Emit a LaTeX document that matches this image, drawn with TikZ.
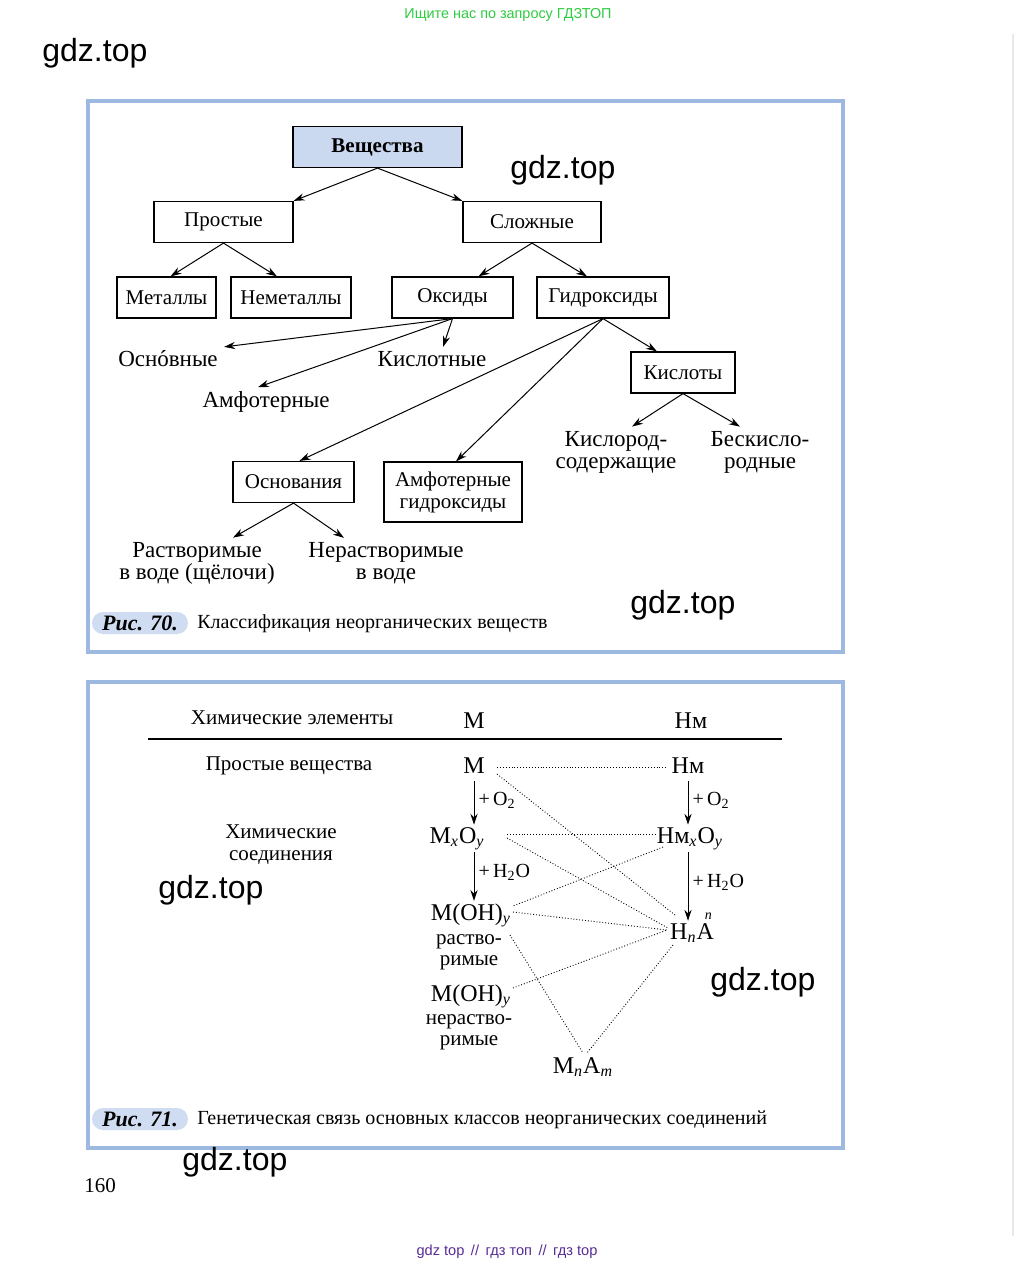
\documentclass[tikz,border=0pt]{standalone}
\usepackage{fontspec}
\setmainfont{Liberation Serif}
\newfontfamily\wmfont{Liberation Sans}
\usetikzlibrary{arrows.meta,calc}
\definecolor{frameblue}{RGB}{158,185,224}
\definecolor{topblue}{RGB}{203,217,240}
\definecolor{tagblue}{RGB}{207,220,241}
\definecolor{wmgreen}{RGB}{46,204,64}
\definecolor{wmviolet}{RGB}{88,44,150}
\newcommand{\stressed}[1]{\ooalign{#1\cr\hidewidth\char"B4\hidewidth\cr}}
\tikzset{
	box/.style={draw, line width=0.6pt, minimum height=20.5pt, inner sep=0pt,
			font=\fontsize{10.5}{11}\selectfont},
	lbl/.style={inner sep=2pt, align=center, font=\fontsize{11.5}{11}\selectfont},
	row/.style={inner sep=2pt, align=center, font=\fontsize{10.5}{11}\selectfont},
	frm/.style={inner sep=1pt, anchor=base, font=\fontsize{12}{12}\selectfont},
	rxn/.style={inner sep=2pt, font=\fontsize{10}{10}\selectfont},
	arr/.style={-{Stealth[length=5.5pt,width=3.6pt]}, line width=0.5pt},
	link/.style={densely dotted, line width=0.45pt},
	panel/.style={draw=frameblue, line width=1.6pt},
	figtag/.style={fill=tagblue, rounded corners=5.5pt, minimum height=11pt, minimum width=48pt,
			inner sep=0pt, font=\fontsize{11}{11}\selectfont\bfseries\itshape},
	capt/.style={anchor=base west, inner sep=0pt, font=\fontsize{10}{11}\selectfont},
	wm/.style={anchor=west, inner sep=0pt, font=\wmfont\fontsize{16}{17}\selectfont}
}
\begin{document}
\begin{tikzpicture}[x=0.5pt,y=-0.5pt]
	\fill[white] (0,0) rectangle (1016,1270);
	\useasboundingbox (0,0) rectangle (1016,1270);
	\draw[gray!18, line width=0.8pt] (1013,34) -- (1013,1236);
	\node[font=\wmfont\fontsize{7.2}{8}\selectfont, text=wmgreen] (ask) at (508,15) {Ищите нас по запросу ГДЗТОП};

	\draw[panel] (88,101) rectangle (843,652);
	\draw[panel] (88,682) rectangle (843,1148);

	\node[box, fill=topblue, minimum width=84.5pt, font=\fontsize{10.5}{11}\selectfont\bfseries] (vesh) at (377.5,147) {Вещества};
	\node[box, minimum width=69.5pt] (prost) at (223.5,222) {Простые};
	\node[box, minimum width=69pt] (slozh) at (532,222) {Сложные};
	\node[box, minimum width=49.5pt] (met) at (166.5,297.5) {Металлы};
	\node[box, minimum width=60pt] (nemet) at (291,297.5) {Неметаллы};
	\node[box, minimum width=60.5pt] (oks) at (452.5,297.5) {Оксиды};
	\node[box, minimum width=66pt] (gidr) at (603,297.5) {Гидроксиды};
	\node[box, minimum width=52pt] (kislt) at (683,372.5) {Кислоты};
	\node[box, minimum width=60.5pt] (osnov) at (293.5,482) {Основания};
	\node[box, minimum width=69pt, minimum height=30pt, align=center] (amfg) at (453,492) {Амфотерные\\гидроксиды};

	\node[lbl] (osnv) at (168,359) {Осн\stressed{о}вные};
	\node[lbl] (kisl) at (432,359) {Кислотные};
	\node[lbl] (amf) at (266,402) {Амфотерные};
	\node[lbl] (kislsod) at (616,452) {Кислород-\\содержащие};
	\node[lbl] (beskisl) at (760,452) {Бескисло-\\родные};
	\node[lbl] (rastv) at (197,563) {Растворимые\\в воде (щёлочи)};
	\node[lbl] (nerastv) at (386,563) {Нерастворимые\\в воде};

	\draw[arr] (vesh.south) -- (prost.north east);
	\draw[arr] (vesh.south) -- (slozh.north west);
	\draw[arr] (prost.south) -- ($(met.north)+(4,0)$);
	\draw[arr] (prost.south) -- ($(nemet.north)+(-14,0)$);
	\draw[arr] (slozh.south) -- ($(oks.north)+(26,0)$);
	\draw[arr] (slozh.south) -- ($(gidr.north)+(-16,0)$);
	\draw[arr] (oks.south) -- ($(osnv.north east)+(2,0)$);
	\draw[arr] (oks.south) -- ($(amf.north)+(-8,0)$);
	\draw[arr] (oks.south) -- ($(kisl.north)+(11,0)$);
	\draw[arr] (gidr.south) -- ($(kislt.north)+(-26,0)$);
	\draw[arr] (gidr.south) -- ($(osnov.north)+(6,0)$);
	\draw[arr] (gidr.south) -- ($(amfg.north)+(3,0)$);
	\draw[arr] (kislt.south) -- ($(kislsod.north)+(16,0)$);
	\draw[arr] (kislt.south) -- ($(beskisl.north)+(-20,0)$);
	\draw[arr] (osnov.south) -- ($(rastv.north)+(36,0)$);
	\draw[arr] (osnov.south) -- ($(nerastv.north)+(-42,0)$);

	\node[figtag] (fig70) at (140,623) {Рис. 70.};
	\node[capt] (cap70) at (197,628) {Классификация неорганических веществ};

	\node[row] (elem) at (292,718) {Химические элементы};
	\node[frm] (mhead) at (474,728) {М};
	\node[frm] (nmhead) at (691,728) {Нм};
	\draw[line width=0.6pt] (148,739) -- (782,739);
	\node[row] (prv) at (289,766) {Простые вещества};
	\node[row] (soed) at (281,845) {Химические\\соединения};

	\node[frm] (m1) at (474,773) {М};
	\node[frm] (nm1) at (688,773) {Нм};
	\node[frm] (mxoy) at (457,843) {М\textsubscript{\itshape x}O\textsubscript{\itshape y}};
	\node[frm] (nmxoy) at (690,843) {Нм\textsubscript{\itshape x}O\textsubscript{\itshape y}};
	\node[frm] (moh1) at (471,920) {М(OH)\textsubscript{\itshape y}};
	\node[row, font=\fontsize{10.5}{10.5}\selectfont] (moh1t) at (469,952) {раство-\\римые};
	\node[frm] (moh2) at (471,1001) {М(OH)\textsubscript{\itshape y}};
	\node[row, font=\fontsize{10.5}{10.5}\selectfont] (moh2t) at (469,1032) {нераство-\\римые};
	\node[frm] (hna) at (692,939) {H\textsubscript{\itshape n}A\llap{\smash{\raisebox{1.75ex}{\scriptsize\itshape n}}\kern1pt}};
	\node[frm] (mnam) at (583,1073) {М\textsubscript{\itshape n}A\textsubscript{\itshape m}};

	\draw[arr, shorten <=3pt] (m1.south) -- node[rxn, right] (o2m) {+\,O\textsubscript{2}} (m1.south |- mxoy.north);
	\draw[arr, shorten <=3pt] (nm1.south) -- node[rxn, right] (o2nm) {+\,O\textsubscript{2}} (nm1.south |- nmxoy.north);
	\draw[arr] (m1.south |- mxoy.south) -- node[rxn, right, yshift=2pt] (h2om) {+\,H\textsubscript{2}O} (m1.south |- moh1.north);
	\draw[arr] (nm1.south |- nmxoy.south) -- node[rxn, right, yshift=2pt] (h2onm) {+\,H\textsubscript{2}O} (nm1.south |- hna.north);

	\draw[link] ($(m1.base)+(23,-6)$) -- ($(nm1.base)+(-21,-6)$);
	\draw[link] ($(m1.base)+(23,1)$) -- ($(hna.base)+(-17,-24)$);
	\draw[link] ($(mxoy.base)+(50,-9)$) -- ($(nmxoy.base)+(-35,-9)$);
	\draw[link] ($(mxoy.base)+(50,-5)$) -- ($(hna.base)+(-24,-11)$);
	\draw[link] ($(nmxoy.base)+(-27,4)$) -- ($(moh1.base)+(42,-14)$);
	\draw[link] ($(moh1.base)+(42,-8)$) -- ($(hna.base)+(-25,-9)$);
	\draw[link] ($(moh2.base)+(42,-13)$) -- ($(hna.base)+(-25,-9)$);
	\draw[link] ($(moh1.base)+(39,15)$) -- ($(mnam.base)+(0,-20)$);
	\draw[link] ($(hna.base)+(-19,6)$) -- ($(mnam.base)+(4,-20)$);

	\node[figtag] (fig71) at (140,1119) {Рис. 71.};
	\node[capt] (cap71) at (197,1124) {Генетическая связь основных классов неорганических соединений};

	\node[font=\fontsize{10.5}{11}\selectfont] (page) at (100,1186) {160};
	\node[font=\wmfont\fontsize{7.3}{8}\selectfont, text=wmviolet] (links) at (507,1252) {gdz top \,//\, гдз топ \,//\, гдз top};

	\node[wm] (wm1) at (42,53) {gdz.top};
	\node[wm] (wm2) at (510,170) {gdz.top};
	\node[wm] (wm3) at (630,605) {gdz.top};
	\node[wm] (wm4) at (158,890) {gdz.top};
	\node[wm] (wm5) at (710,982) {gdz.top};
	\node[wm] (wm6) at (182,1162) {gdz.top};
\end{tikzpicture}
\end{document}
